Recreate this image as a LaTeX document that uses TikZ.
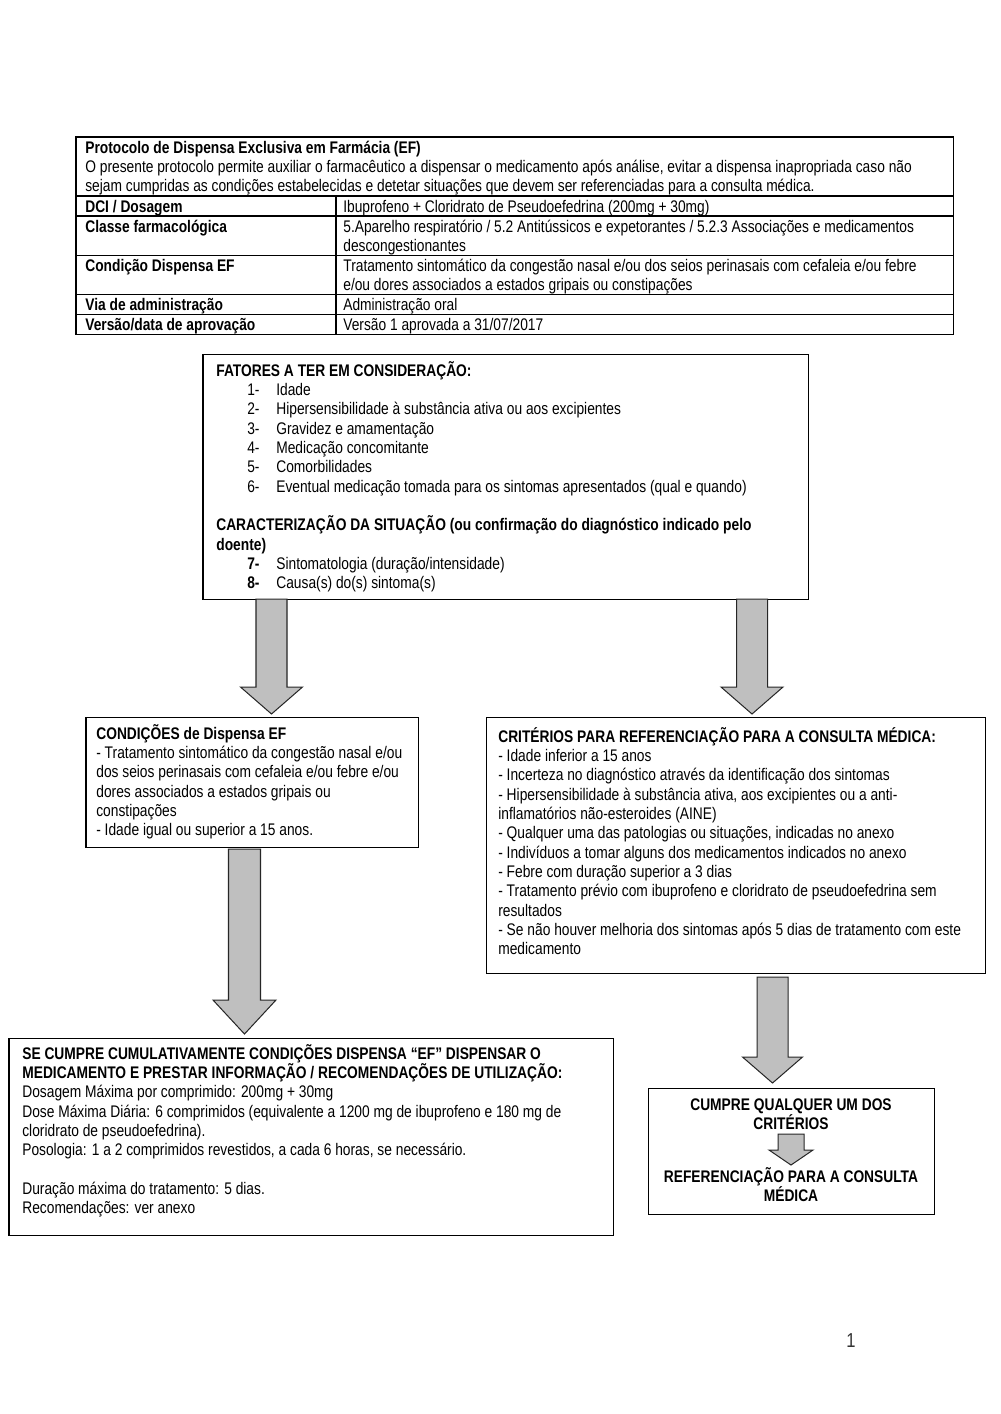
\documentclass[tikz,border=0pt]{standalone}
\usepackage{fontspec}
\setmainfont{Liberation Sans}[FakeStretch=0.82]
\newcommand\fs{\fontsize{10}{11.5}\selectfont}
\newcommand\topstrut{\rule{0pt}{9.5pt}}
\newcommand\itm[1]{\hspace*{18.4pt}\makebox[17.3pt][l]{#1}}

\tikzset{
  box/.style={draw=black, line width=0.6pt},
  blockarrow/.style={draw=black!85, fill=black!25, line width=0.6pt, line join=miter},
  txt/.style={anchor=north west, inner sep=0pt, align=left, font=\fs},
  ctxt/.style={txt, anchor=north, align=center}
}

\begin{document}
\begin{tikzpicture}[x=0.595pt, y=-0.595pt]
\useasboundingbox (0,0) rectangle (1000,1414);
\fill[white] (0,0) rectangle (1000,1414);

\draw[box] (76,137) rectangle (953,334);
\foreach \y in {196,216,255,294,314}
  \draw[box] (76,\y) -- (953,\y);
\draw[box] (336,196) -- (336,334);

\node[txt] (hdr) at (85,137) {\topstrut\textbf{Protocolo de Dispensa Exclusiva em Farmácia (EF)}\\
O presente protocolo permite auxiliar o farmacêutico a dispensar o medicamento após análise, evitar a dispensa inapropriada caso não\\
sejam cumpridas as condições estabelecidas e detetar situações que devem ser referenciadas para a consulta médica.};
\node[txt] (dci) at (85,196) {\topstrut\textbf{DCI / Dosagem}};
\node[txt] (dcival) at (343,196) {\topstrut Ibuprofeno + Cloridrato de Pseudoefedrina (200mg + 30mg)};
\node[txt] (classe) at (85,216) {\topstrut\textbf{Classe farmacológica}};
\node[txt] (classeval) at (343,216) {\topstrut 5.Aparelho respiratório / 5.2 Antitússicos e expetorantes / 5.2.3 Associações e medicamentos\\ descongestionantes};
\node[txt] (condicao) at (85,255) {\topstrut\textbf{Condição Dispensa EF}};
\node[txt] (condicaoval) at (343,255) {\topstrut Tratamento sintomático da congestão nasal e/ou dos seios perinasais com cefaleia e/ou febre\\ e/ou dores associados a estados gripais ou constipações};
\node[txt] (via) at (85,294) {\topstrut\textbf{Via de administração}};
\node[txt] (viaval) at (343,294) {\topstrut Administração oral};
\node[txt] (versao) at (85,314) {\topstrut\textbf{Versão/data de aprovação}};
\node[txt] (versaoval) at (343,314) {\topstrut Versão 1 aprovada a 31/07/2017};

\draw[box] (203,354) rectangle (808,599);
\node[txt] (fatores) at (216,360) {\topstrut\textbf{FATORES A TER EM CONSIDERAÇÃO:}\\
\itm{1-}Idade\\
\itm{2-}Hipersensibilidade à substância ativa ou aos excipientes\\
\itm{3-}Gravidez e amamentação\\
\itm{4-}Medicação concomitante\\
\itm{5-}Comorbilidades\\
\itm{6-}Eventual medicação tomada para os sintomas apresentados (qual e quando)\\[11.5pt]
\textbf{CARACTERIZAÇÃO DA SITUAÇÃO (ou confirmação do diagnóstico indicado pelo}\\
\textbf{doente)}\\
\itm{\textbf{7-}}Sintomatologia (duração/intensidade)\\
\itm{\textbf{8-}}Causa(s) do(s) sintoma(s)};

\draw[box] (86,717) rectangle (418,847);
\node[txt] (condicoes) at (96,723) {\topstrut\textbf{CONDIÇÕES de Dispensa EF}\\
- Tratamento sintomático da congestão nasal e/ou\\
dos seios perinasais com cefaleia e/ou febre e/ou\\
dores associados a estados gripais ou\\
constipações\\
- Idade igual ou superior a 15 anos.};

\draw[box] (486,717) rectangle (985,973);
\node[txt] (criterios) at (498,726) {\topstrut\textbf{CRITÉRIOS PARA REFERENCIAÇÃO PARA A CONSULTA MÉDICA:}\\
- Idade inferior a 15 anos\\
- Incerteza no diagnóstico através da identificação dos sintomas\\
- Hipersensibilidade à substância ativa, aos excipientes ou a anti-\\
inflamatórios não-esteroides (AINE)\\
- Qualquer uma das patologias ou situações, indicadas no anexo\\
- Indivíduos a tomar alguns dos medicamentos indicados no anexo\\
- Febre com duração superior a 3 dias\\
- Tratamento prévio com ibuprofeno e cloridrato de pseudoefedrina sem\\
resultados\\
- Se não houver melhoria dos sintomas após 5 dias de tratamento com este\\
medicamento};

\draw[box] (9,1038) rectangle (613,1235);
\node[txt] (dispensar) at (22,1043) {\topstrut\textbf{SE CUMPRE CUMULATIVAMENTE CONDIÇÕES DISPENSA “EF” DISPENSAR O}\\
\textbf{MEDICAMENTO E PRESTAR INFORMAÇÃO / RECOMENDAÇÕES DE UTILIZAÇÃO:}\\
Dosagem Máxima por comprimido: 200mg + 30mg\\
Dose Máxima Diária: 6 comprimidos (equivalente a 1200 mg de ibuprofeno e 180 mg de\\
cloridrato de pseudoefedrina).\\
Posologia: 1 a 2 comprimidos revestidos, a cada 6 horas, se necessário.\\[11.5pt]
Duração máxima do tratamento: 5 dias.\\
Recomendações: ver anexo};

\draw[box] (648,1088) rectangle (934,1214);
\node[ctxt] (cumpre) at (791,1094) {\topstrut\textbf{CUMPRE QUALQUER UM DOS}\\ \textbf{CRITÉRIOS}};
\node[ctxt] (referenciacao) at (791,1166) {\topstrut\textbf{REFERENCIAÇÃO PARA A CONSULTA}\\ \textbf{MÉDICA}};

\foreach \cx/\ya/\yb/\yc/\w/\h in {271.5/599/687/714/15.5/31, 752/599/687/714/15.5/31,
    244.5/849/1000/1034/16/31.5, 772.5/977/1057/1083/15.5/30, 791/1134/1150/1165/13/22}
  \draw[blockarrow] (\cx-\w,\ya) -- (\cx-\w,\yb) -- (\cx-\h,\yb) -- (\cx,\yc)
    -- (\cx+\h,\yb) -- (\cx+\w,\yb) -- (\cx+\w,\ya) -- cycle;

\node[font=\fontsize{12}{14}\selectfont, text=black!80, inner sep=0pt] (pagenum) at (851,1341) {1};
\end{tikzpicture}
\end{document}
